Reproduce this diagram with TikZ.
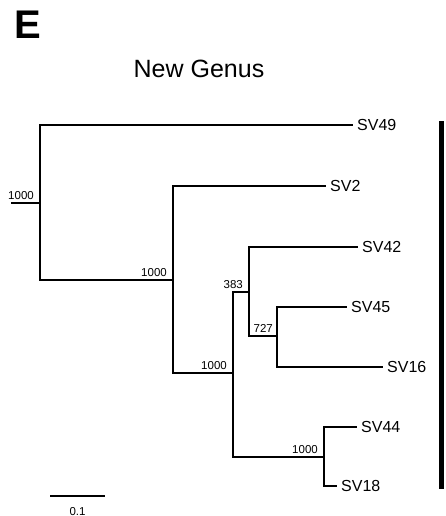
\documentclass[tikz,border=0pt]{standalone}
\usepackage{fontspec}
\setmainfont{Liberation Sans}
\usepackage{tikz}
\usetikzlibrary{positioning}
\tikzstyle{branch} = [line width=1.1pt, line cap=rect]
\tikzstyle{tip} = [anchor=west, 
inner xsep=5pt, 
inner ysep=0pt, 
font=\fontsize{16}{18}\selectfont]
\tikzstyle{boot} = [anchor=base east, 
inner sep=0pt, 
font=\fontsize{11.5}{13}\selectfont]
\tikzstyle{title} = [anchor=base, inner sep=0pt]

\begin{document}
\begin{tikzpicture}[x=1pt, y=-1pt]
        \useasboundingbox (0,0) rectangle (445,516);

        % --- Titulos ---
        \node (panel) [title, anchor=base west, font=\fontsize{40}{40}\selectfont\bfseries] at (14,39) {E};
        \node (genus) [title, font=\fontsize{25}{28}\selectfont] at (199,78) {New Genus};

        % --- Nodos internos ---
        \coordinate (stub) at (12,203);
        \coordinate (root) at (40,203);
        \coordinate (na) at (173,280);
        \coordinate (nb) at (233,373);
        \coordinate (nc) at (249,292);
        \coordinate (nd) at (277,336);
        \coordinate (ne) at (324,457);

        % --- Hojas ---
        \node (sv49) [tip] at (352,125) {SV49};
        \node (sv2) [tip] at (325,186) {SV2};
        \node (sv42) [tip] at (357,247) {SV42};
        \node (sv45) [tip] at (346,307) {SV45};
        \node (sv16) [tip] at (382,367) {SV16};
        \node (sv44) [tip] at (356,427) {SV44};
        \node (sv18) [tip] at (336,486) {SV18};

        % --- Ramas ---
        \draw [branch] (stub) -- (root);
        \draw [branch] (root) |- (sv49.west);
        \draw [branch] (root) |- (na);
        \draw [branch] (na) |- (sv2.west);
        \draw [branch] (na) |- (nb);
        \draw [branch] (nb) |- (nc);
        \draw [branch] (nb) |- (ne);
        \draw [branch] (nc) |- (sv42.west);
        \draw [branch] (nc) |- (nd);
        \draw [branch] (nd) |- (sv45.west);
        \draw [branch] (nd) |- (sv16.west);
        \draw [branch] (ne) |- (sv44.west);
        \draw [branch] (ne) |- (sv18.west);

        % --- Valores de bootstrap ---
        \node (bsroot) [boot] at ([xshift=-6pt,yshift=4pt]root) {1000};
        \node (bsa) [boot] at ([xshift=-6pt,yshift=4pt]na) {1000};
        \node (bsb) [boot] at ([xshift=-6pt,yshift=4pt]nb) {1000};
        \node (bsc) [boot] at ([xshift=-6pt,yshift=4pt]nc) {383};
        \node (bsd) [boot] at ([xshift=-4pt,yshift=4pt]nd) {727};
        \node (bse) [boot] at ([xshift=-6pt,yshift=4pt]ne) {1000};

        % --- Escala y barra del genero ---
        \coordinate (sbl) at (51,496);
        \coordinate (sbr) at (104,496);
        \draw [branch] (sbl) -- (sbr);
        \node (scalelbl) [boot, anchor=base] at (77.5,515) {0.1};
        \coordinate (bartop) at (441.5,121);
        \coordinate (barbot) at (441.5,489);
        \draw [line width=5pt] (bartop) -- (barbot);

    \end{tikzpicture}
\end{document}
